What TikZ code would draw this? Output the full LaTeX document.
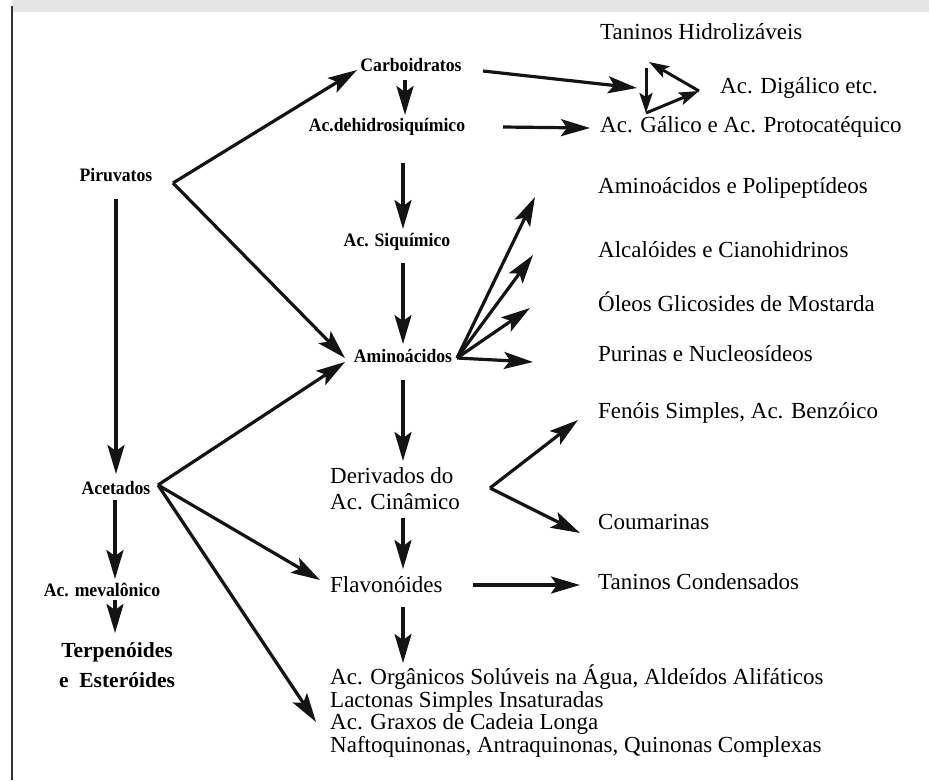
\documentclass[tikz,border=0pt]{standalone}
\usepackage{fontspec}
\setmainfont{Liberation Serif}
\newfontfamily\lblfont[FakeStretch=0.93]{Liberation Serif}
\usetikzlibrary{arrows.meta,calc}
\begin{document}
\begin{tikzpicture}[x=1pt,y=-1pt,
  lbl/.style={font=\lblfont\fontsize{19}{20}\selectfont\bfseries, inner sep=0pt},
  txt/.style={font=\fontsize{23}{24}\selectfont, inner sep=0pt, anchor=west},
  arr/.style={line width=3.2pt, draw=black!92, -{Stealth[length=29pt,width=17pt,inset=6pt]}},
  sarr/.style={line width=3pt, draw=black!92, -{Stealth[length=20pt,width=13pt,inset=4pt]}},
]
\useasboundingbox (0,0) rectangle (929,780);
\fill[black!10] (12,0) rectangle (929,12);
\draw[line width=2.2pt, black!80] (12,6) -- (12,780);

% left column
\node[lbl] (piru) at (116,175) {Piruvatos};
\node[lbl] (acet) at (116,488) {Acetados};
\node[lbl] (meval) at (102,590) {Ac. mevalônico};
\node[font=\fontsize{21.5}{30}\selectfont\bfseries, inner sep=0pt, align=center] (terp) at (117,665) {Terpenóides\\e\ \ Esteróides};

% middle column
\node[lbl] (carb) at (411,65) {Carboidratos};
\node[lbl] (dehid) at (387,127) {Ac.dehidrosiquímico};
\node[lbl] (siqu) at (397,242) {Ac. Siquímico};
\node[lbl] (amino) at (403,356) {Aminoácidos};
\node[txt, align=left, font=\fontsize{23}{26}\selectfont] (deriv) at (330,489) {Derivados do\\Ac. Cinâmico};
\node[txt] (flav) at (330,585) {Flavonóides};
\node[txt, align=left, font=\fontsize{23}{22.7}\selectfont] (bot) at (330,711) {Ac. Orgânicos Solúveis na Água, Aldeídos Alifáticos\\Lactonas Simples Insaturadas\\Ac. Graxos de Cadeia Longa\\Naftoquinonas, Antraquinonas, Quinonas Complexas};

% right column
\node[txt] (tanH) at (600,32) {Taninos Hidrolizáveis};
\node[txt] (digal) at (720,88) {Ac. Digálico etc.};
\node[txt] (galico) at (600,127) {Ac. Gálico e Ac. Protocatéquico};
\node[txt] (aminoP) at (598,188) {Aminoácidos e Polipeptídeos};
\node[txt] (alcal) at (598,250) {Alcalóides e Cianohidrinos};
\node[txt] (oleos) at (598,302) {Óleos Glicosides de Mostarda};
\node[txt] (purin) at (598,354) {Purinas e Nucleosídeos};
\node[txt] (fenois) at (598,413) {Fenóis Simples, Ac. Benzóico};
\node[txt] (coum) at (598,522) {Coumarinas};
\node[txt] (tanC) at (598,582) {Taninos Condensados};

% branch points
\coordinate (pv) at (173,183);
\coordinate (vf) at (158,485);
\coordinate (af) at (457,358);
\coordinate (df) at (490,488);
\coordinate (tA) at (646,68);
\coordinate (tB) at (646,113);
\coordinate (tC) at (699,91);

% Piruvatos
\draw[arr] (pv) -- ($(carb.center)+(-54,5)$);
\draw[arr] (pv) -- ($(amino.center)+(-58,2)$);
\draw[arr] ($(piru.center)+(0,24)$) -- ($(acet.center)+(0,-14)$);

% middle vertical chain
\draw[arr] ($(carb.center)+(-6,15)$) -- ($(dehid.center)+(18,-12)$);
\draw[arr] ($(dehid.center)+(16,36)$) -- ($(siqu.center)+(6,-13)$);
\draw[arr] ($(siqu.center)+(6,21)$) -- ($(amino.center)+(0,-12)$);
\draw[arr] ($(amino.center)+(0,24)$) -- ($(deriv.west)+(73,-28)$);
\draw[arr] ($(deriv.west)+(73,29)$) -- ($(flav.west)+(73,-16)$);
\draw[arr] ($(flav.west)+(73,22)$) -- ($(bot.west)+(73,-48)$);

% Acetados
\draw[arr] (vf) -- ($(amino.center)+(-58,6)$);
\draw[arr] (vf) -- ($(flav.west)+(-10,-5)$);
\draw[arr] (vf) -- ($(bot.west)+(-14,11)$);
\draw[arr] ($(acet.center)+(-1,12)$) -- ($(meval.center)+(13,-11)$);
\draw[arr] ($(meval.center)+(13,10)$) -- ($(terp.center)+(-2,-32)$);

% Aminoacidos fan
\draw[arr] (af) -- ($(aminoP.west)+(-63,9)$);
\draw[arr] (af) -- ($(alcal.west)+(-65,5)$);
\draw[arr] (af) -- ($(oleos.west)+(-68,6)$);
\draw[arr] (af) -- ($(purin.west)+(-65,8)$);

% Derivados fan
\draw[arr] (df) -- ($(fenois.west)+(-20,7)$);
\draw[arr] (df) -- ($(coum.west)+(-18,11)$);
\draw[arr] ($(flav.west)+(143,0)$) -- ($(tanC.west)+(-18,3)$);

% top right
\draw[arr] ($(carb.center)+(72,6)$) -- ($(digal.west)+(-83,0)$);
\draw[arr] ($(dehid.center)+(116,0)$) -- ($(galico.west)+(-10,1)$);
\draw[sarr] (tA) -- (tB);
\draw[sarr] (tB) -- (tC);
\draw[sarr] (tC) -- ($(tanH.west)+(49,30)$);
\end{tikzpicture}
\end{document}
